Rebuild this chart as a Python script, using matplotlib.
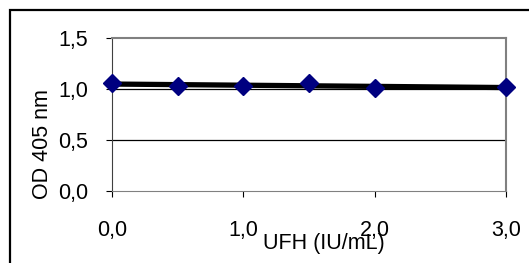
import matplotlib.pyplot as plt
import numpy as np
from matplotlib.patches import Rectangle

plt.rcParams['font.family'] = ['Liberation Sans', 'DejaVu Sans']

ufh = [0.0, 0.5, 1.0, 1.5, 2.0, 3.0]
od = [1.056, 1.03, 1.03, 1.06, 1.007, 1.017]
x_ticks = [0, 1, 2, 3]
x_labels = ['0,0', '1,0', '2,0', '3,0']
y_ticks = [0.0, 0.5, 1.0, 1.5]
y_labels = ['0,0', '0,5', '1,0', '1,5']

fig = plt.figure(figsize=(5.29, 2.63), dpi=100)
ax = fig.add_axes([0.2117, 0.2738, 0.7448, 0.5817])

# trend line through the points
k, b = np.polyfit(ufh, od, 1)
xs = np.array([0.0, 3.0])
ax.plot(xs, k * xs + b, color='black', lw=3.8, zorder=3, clip_on=False)
ax.plot(ufh, od, ls='none', marker='D', ms=9, color='#000080', zorder=4, clip_on=False)

ax.set_xlim(0, 3)
ax.set_ylim(0, 1.5)
ax.set_xticks(x_ticks)
ax.set_xticklabels(x_labels, fontsize=15.5)
ax.set_yticks(y_ticks)
ax.set_yticklabels(y_labels, fontsize=15.5)
ax.tick_params(axis='x', direction='out', length=4, pad=17, color='black')
ax.tick_params(axis='y', direction='out', length=4, pad=13, color='black')

for yv in [0.5, 1.0]:
    ax.axhline(yv, color='black', lw=0.9, zorder=1)

for s in ['top', 'right']:
    ax.spines[s].set_color('#808080')
    ax.spines[s].set_linewidth(1.5)
ax.spines['left'].set_color('#404040')
ax.spines['bottom'].set_color('#808080')

fig.text(0.081, 0.454, 'OD 405 nm', rotation=90, fontsize=15.5, ha='center', va='center')
fig.text(0.613, 0.076, 'UFH (IU/mL)', fontsize=15.5, ha='center', va='center')

# outer chart border
fig.patches.append(Rectangle((10 / 529, -0.05), 1.2, 1 - 10 / 263 + 0.05, transform=fig.transFigure,
                             fill=False, ec='black', lw=1.6))

fig.savefig('out.png', dpi=100)
